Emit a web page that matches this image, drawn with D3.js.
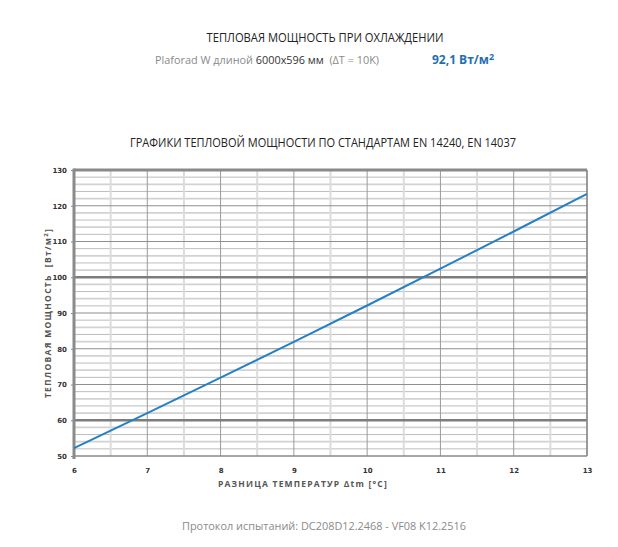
<!DOCTYPE html>
<html>
<head>
<meta charset="utf-8">
<script src="https://cdn.jsdelivr.net/npm/d3@7"></script>
<style>
  body { margin: 0; background: #fff; }
  text { font-family: "Open Sans", "DejaVu Sans", sans-serif; }
</style>
</head>
<body>
<div id="chart"></div>
<script>
// temperature difference, °C
const deltaT = [6, 7, 8, 9, 10, 11, 12, 13];
// heat output, W/m2
const heatOutput = [52.2, 62.0, 71.9, 81.9, 92.1, 102.4, 112.8, 123.3];
const xTicks = [6, 7, 8, 9, 10, 11, 12, 13];
const yTicks = [50, 60, 70, 80, 90, 100, 110, 120, 130];

const width = 618, height = 547;
const margin = {top: 170, right: 31, bottom: 91, left: 74};
const plotW = width - margin.left - margin.right;
const plotH = height - margin.top - margin.bottom;

const svg = d3.select("#chart").append("svg")
    .attr("width", width)
    .attr("height", height);

// titles
svg.append("text")
    .attr("x", 325).attr("y", 42)
    .attr("text-anchor", "middle")
    .style("font-size", "13px")
    .style("fill", "#222")
    .attr("textLength", 237).attr("lengthAdjust", "spacingAndGlyphs")
    .text("ТЕПЛОВАЯ МОЩНОСТЬ ПРИ ОХЛАЖДЕНИИ");

let sub = svg.append("text")
    .attr("x", 155).attr("y", 64)
    .style("font-size", "11.5px")
    .attr("textLength", 224).attr("lengthAdjust", "spacingAndGlyphs");
sub.append("tspan").style("fill", "#8a8a8a").text("Plaforad W длиной ");
sub.append("tspan").style("fill", "#333").text("6000x596 мм");
sub.append("tspan").style("fill", "#8a8a8a").attr("xml:space", "preserve").text("  (ΔT = 10K)");

let val = svg.append("text")
    .attr("x", 432).attr("y", 64)
    .style("font-size", "12px")
    .style("font-weight", "bold")
    .style("fill", "#1f6fb2");
val.append("tspan").text("92,1 Вт/м");
val.append("tspan").attr("dy", -4).style("font-size", "9px").text("2");

svg.append("text")
    .attr("x", 323).attr("y", 147)
    .attr("text-anchor", "middle")
    .style("font-size", "12px")
    .style("fill", "#222")
    .attr("textLength", 386).attr("lengthAdjust", "spacingAndGlyphs")
    .text("ГРАФИКИ ТЕПЛОВОЙ МОЩНОСТИ ПО СТАНДАРТАМ EN 14240, EN 14037");

const g = svg.append("g")
    .attr("transform", "translate(" + margin.left + "," + margin.top + ")");

const x = d3.scaleLinear().domain([6, 13]).range([0, plotW]);
const y = d3.scaleLinear().domain([50, 130]).range([plotH, 0]);

// minor horizontal grid every 2 units
const minorY = d3.range(52, 130, 2).filter(d => d % 10 !== 0);
g.selectAll(".hminor").data(minorY).enter().append("line")
    .attr("x1", 0).attr("x2", plotW)
    .attr("y1", d => y(d)).attr("y2", d => y(d))
    .style("stroke", d => (d % 4 === 2) ? "#d2d2d2" : "#bdbdbd")
    .style("stroke-width", d => (d % 4 === 2) ? 1.8 : 1);

// half-degree verticals (light)
const halfX = d3.range(6.5, 13, 1);
g.selectAll(".vhalf").data(halfX).enter().append("line")
    .attr("x1", d => x(d)).attr("x2", d => x(d))
    .attr("y1", 0).attr("y2", plotH)
    .style("stroke", "#dcdcdc")
    .style("stroke-width", 2);

// integer verticals
g.selectAll(".vmajor").data(xTicks.slice(1)).enter().append("line")
    .attr("x1", d => x(d)).attr("x2", d => x(d))
    .attr("y1", 0).attr("y2", plotH)
    .style("stroke", "#9a9a9a")
    .style("stroke-width", 1);

// major horizontals every 10
g.selectAll(".hmajor").data(yTicks.slice(1, -1)).enter().append("line")
    .attr("x1", 0).attr("x2", plotW)
    .attr("y1", d => y(d)).attr("y2", d => y(d))
    .style("stroke", d => (d === 60 || d === 100) ? "#7d7d7d" : "#8e8e8e")
    .style("stroke-width", d => (d === 60 || d === 100) ? 2.6 : 1.2);

// frame
g.append("line").attr("x1", 0).attr("x2", plotW).attr("y1", 0).attr("y2", 0)
    .style("stroke", "#8a8a8a").style("stroke-width", 3);
g.append("line").attr("x1", plotW).attr("x2", plotW).attr("y1", 0).attr("y2", plotH)
    .style("stroke", "#8a8a8a").style("stroke-width", 1.5);
g.append("line").attr("x1", 0).attr("x2", plotW).attr("y1", plotH).attr("y2", plotH)
    .style("stroke", "#8a8a8a").style("stroke-width", 1.5);

// axes
const yAxis = g.append("g")
    .call(d3.axisLeft(y).tickValues(yTicks).tickSize(3).tickPadding(4));
const xAxis = g.append("g")
    .attr("transform", "translate(0," + plotH + ")")
    .call(d3.axisBottom(x).tickValues(xTicks).tickFormat(d3.format("d")).tickSize(0).tickPadding(12));

[yAxis, xAxis].forEach(a => {
    a.select(".domain").remove();
    a.selectAll("line").style("stroke", "#888");
    a.selectAll("text")
        .style("font-family", "'DejaVu Sans', sans-serif")
        .style("font-size", "7px")
        .style("font-weight", "bold")
        .style("fill", "#333");
});
g.append("line").attr("x1", 0).attr("x2", 0).attr("y1", -1.5).attr("y2", plotH + 3)
    .style("stroke", "#8a8a8a").style("stroke-width", 3);

// curve
const line = d3.line()
    .x((d, i) => x(deltaT[i]))
    .y(d => y(d));
g.append("path")
    .datum(heatOutput)
    .attr("d", line)
    .style("fill", "none")
    .style("stroke", "#2581c4")
    .style("stroke-width", 2);

// axis titles
let yl = svg.append("text")
    .attr("transform", "translate(51,313) rotate(-90)")
    .attr("text-anchor", "middle")
    .style("font-size", "8.5px")
    .style("font-weight", "bold")
    .style("fill", "#555")
    .style("letter-spacing", "1.3px");
yl.append("tspan").attr("xml:space", "preserve").text("ТЕПЛОВАЯ МОЩНОСТЬ  [Вт/м");
yl.append("tspan").attr("dy", -3).style("font-size", "6px").text("2");
yl.append("tspan").attr("dy", 3).text("]");

svg.append("text")
    .attr("x", 218).attr("y", 487)
    .style("font-size", "8.5px")
    .style("font-weight", "bold")
    .style("fill", "#555")
    .style("letter-spacing", "1.2px")
    .text("РАЗНИЦА ТЕМПЕРАТУР Δtm [°C]");

// footer
svg.append("text")
    .attr("x", 324).attr("y", 530)
    .attr("text-anchor", "middle")
    .style("font-size", "11.5px")
    .style("fill", "#8a8a8a")
    .attr("textLength", 284).attr("lengthAdjust", "spacingAndGlyphs")
    .text("Протокол испытаний: DC208D12.2468 - VF08 K12.2516");
</script>
</body>
</html>
